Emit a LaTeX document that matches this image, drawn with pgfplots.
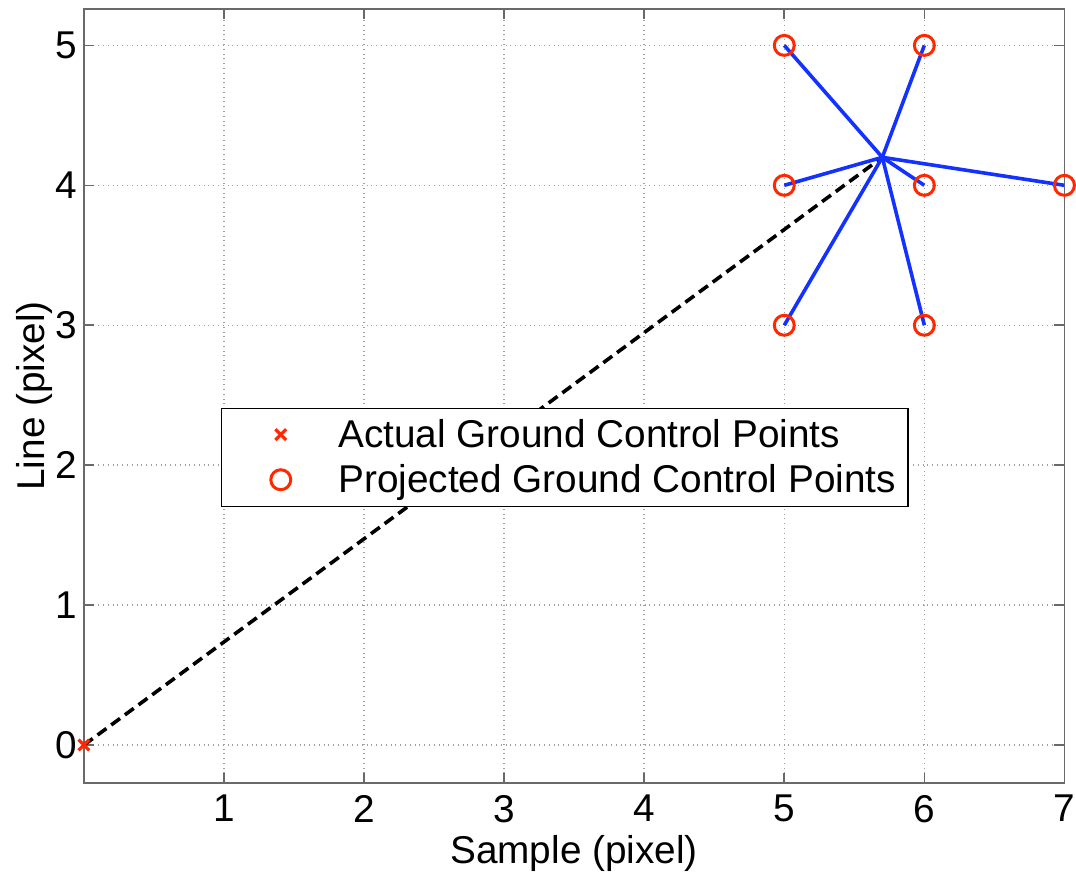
\documentclass[border=0pt]{standalone}
\usepackage{pgfplots}
\pgfplotsset{compat=1.18}
\usepackage{fontspec}
\setmainfont{Liberation Sans}

\definecolor{gcpred}{RGB}{255,40,0}
\definecolor{gcpblue}{RGB}{20,50,255}
\definecolor{axgray}{RGB}{105,105,105}

\begin{document}
\begin{tikzpicture}
\begin{axis}[
  scale only axis,
  width=491pt, height=387.5pt,
  xmin=0, xmax=7, ymin=-0.27, ymax=5.26,
  xtick={1,2,3,4,5,6,7},
  ytick={0,1,2,3,4,5},
  grid=major,
  major grid style={dotted, line width=0.7pt, gray!75},
  axis line style={axgray, line width=0.8pt},
  tick style={axgray, line width=0.8pt},
  tick align=inside,
  major tick length=5pt,
  xtick pos=both, ytick pos=both,
  /pgf/number format/assume math mode=true,
  tick label style={font=\fontsize{19.4}{23}\selectfont},
  xticklabel style={inner xsep=0pt, inner ysep=6pt},
  label style={font=\fontsize{19.4}{23}\selectfont, inner sep=1pt},
  xlabel={Sample (pixel)},
  ylabel={Line (pixel)},
  xlabel style={at={(axis description cs:0.5,-0.0916)}, anchor=center},
  ylabel style={at={(axis description cs:-0.0499,0.5)}, anchor=center},
  legend style={
    at={(rel axis cs:0.1395,0.485)}, anchor=north west,
    font=\fontsize{19.4}{23}\selectfont,
    draw=black, line width=0.6pt, fill=white,
    inner xsep=4pt, inner ysep=2pt,
    /tikz/every even column/.append style={column sep=0pt},
  },
  legend cell align=left,
  legend image code/.code={%
    \path (0pt,-10.5pt) (51pt,10.5pt);
    \draw[#1] plot coordinates {(25pt,0pt)};
  },
]
% baseline from origin to the fitted centre
\addplot[black, line width=1.8pt, dash pattern=on 5.5pt off 3pt, forget plot]
  coordinates {(0,0) (5.7,4.2)};

\addplot[only marks, mark=x, mark size=3.8pt, color=gcpred, line width=1.6pt]
  coordinates {(0,0)};
\addlegendentry{Actual Ground Control Points}

\addplot[only marks, mark=o, mark size=5pt, color=gcpred, line width=1.5pt]
  coordinates {(5,5) (6,5) (5,4) (6,4) (7,4) (5,3) (6,3)};
\addlegendentry{Projected Ground Control Points}

% residual vectors from the centre to each projected point
\addplot[gcpblue, line width=1.8pt, forget plot] coordinates {(5.7,4.2) (5,5)};
\addplot[gcpblue, line width=1.8pt, forget plot] coordinates {(5.7,4.2) (6,5)};
\addplot[gcpblue, line width=1.8pt, forget plot] coordinates {(5.7,4.2) (5,4)};
\addplot[gcpblue, line width=1.8pt, forget plot] coordinates {(5.7,4.2) (6,4)};
\addplot[gcpblue, line width=1.8pt, forget plot] coordinates {(5.7,4.2) (7,4)};
\addplot[gcpblue, line width=1.8pt, forget plot] coordinates {(5.7,4.2) (5,3)};
\addplot[gcpblue, line width=1.8pt, forget plot] coordinates {(5.7,4.2) (6,3)};
\end{axis}
\path (current axis.south west) ++(-42pt,-46.5pt);
\path (current axis.north east) ++(5.8pt,4.5pt);
\end{tikzpicture}
\end{document}
